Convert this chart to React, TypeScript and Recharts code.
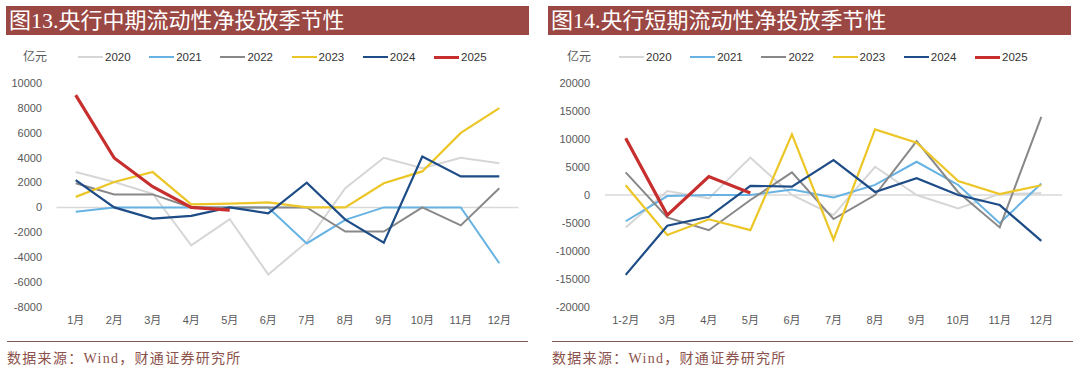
import { LineChart, Line, XAxis, YAxis, ReferenceLine } from "recharts";

// 图13 央行中期流动性净投放（亿元）
const MID_MONTHS = ["1月", "2月", "3月", "4月", "5月", "6月", "7月", "8月", "9月", "10月", "11月", "12月"];
const MID_2020 = [2850, 2050, 1100, -3050, -950, -5400, -2800, 1550, 4000, 3150, 4000, 3550];
const MID_2021 = [-350, 0, 0, 0, 0, 0, -2900, -1000, 0, 0, 0, -4500];
const MID_2022 = [1950, 1050, 1050, 0, 0, 0, 0, -1950, -1950, 0, -1450, 1550];
const MID_2023 = [850, 2050, 2850, 250, 300, 400, 0, 0, 1950, 2900, 6000, 8000];
const MID_2024 = [2200, 0, -900, -680, 0, -480, 1990, -980, -2850, 4100, 2500, 2500];
const MID_2025 = [9050, 3980, 1670, 0, -220, null, null, null, null, null, null, null];
const MID_TICKS = [-8000, -6000, -4000, -2000, 0, 2000, 4000, 6000, 8000, 10000];

// 图14 央行短期流动性净投放（亿元）
const SHORT_MONTHS = ["1-2月", "3月", "4月", "5月", "6月", "7月", "8月", "9月", "10月", "11月", "12月"];
const SHORT_2020 = [-5800, 700, -600, 6700, 0, -3600, 5050, 0, -2400, 200, 300];
const SHORT_2021 = [-4700, -200, 0, 0, 1000, -450, 1800, 5950, 1800, -5050, 2050];
const SHORT_2022 = [4050, -4000, -6300, -900, 4050, -4300, 0, 9650, 500, -5800, 14000];
const SHORT_2023 = [1750, -7150, -4350, -6300, 10850, -8000, 11750, 9350, 2500, 150, 1750];
const SHORT_2024 = [-14300, -5500, -3900, 1650, 1500, 6250, 550, 3000, 0, -1800, -8200];
const SHORT_2025 = [10150, -3600, 3300, 350, null, null, null, null, null, null, null];
const SHORT_TICKS = [-20000, -15000, -10000, -5000, 0, 5000, 10000, 15000, 20000];

const YEARS = ["2020", "2021", "2022", "2023", "2024", "2025"];
const COLORS = ["#d6d6d6", "#66b3e3", "#888888", "#ecc626", "#1d4c86", "#c62f2e"];
const WIDTHS = [2, 2, 2, 2.2, 2.2, 3.2];

const TICK_FONT = "'Liberation Sans', Arial, 'Noto Sans CJK SC', sans-serif";
const SERIF_FONT = "'Liberation Serif', 'Noto Sans CJK SC', serif";

function buildRows(months: string[], series: (number | null)[][]) {
  return months.map((m, i) => {
    const row: Record<string, string | number | null> = { m };
    YEARS.forEach((y, k) => {
      row[y] = series[k][i];
    });
    return row;
  });
}

const midRows = buildRows(MID_MONTHS, [MID_2020, MID_2021, MID_2022, MID_2023, MID_2024, MID_2025]);
const shortRows = buildRows(SHORT_MONTHS, [SHORT_2020, SHORT_2021, SHORT_2022, SHORT_2023, SHORT_2024, SHORT_2025]);

interface PanelProps {
  x: number;
  title: string;
  rows: Record<string, string | number | null>[];
  ticks: number[];
  axisWidth: number;
  rightMargin: number;
  labelEnd: number;
  pad: number;
  unitX: number;
  legendX: number;
}

function Panel({ x, title, rows, ticks, axisWidth, rightMargin, labelEnd, pad, unitX, legendX }: PanelProps) {
  return (
    <div style={{ position: "absolute", left: x, top: 0, width: 540, height: 378 }}>
      <div
        style={{
          position: "absolute",
          left: x === 0 ? 6 : 8,
          top: 6,
          width: 523,
          height: 29,
          background: "#9b4743",
          color: "#fff",
          fontFamily: SERIF_FONT,
          fontSize: 22,
          lineHeight: "29px",
          paddingLeft: 3,
          boxSizing: "border-box",
          whiteSpace: "nowrap",
        }}
      >
        {title}
      </div>

      <LineChart
        width={540}
        height={340}
        data={rows}
        margin={{ top: 83.3, right: rightMargin, bottom: 8.3, left: 0 }}
        style={{ position: "absolute", left: 0, top: 0 }}
      >
        <XAxis
          dataKey="m"
          height={25}
          padding={{ left: pad, right: pad }}
          axisLine={false}
          tickLine={false}
          tickMargin={3}
          interval={0}
          tick={{ fontSize: 11, fill: "#595959", fontFamily: TICK_FONT }}
        />
        <YAxis
          width={axisWidth}
          domain={[ticks[0], ticks[ticks.length - 1]]}
          ticks={ticks}
          axisLine={false}
          tickLine={false}
          tickMargin={axisWidth - 6 - labelEnd}
          tick={{ fontSize: 11, fill: "#595959", fontFamily: TICK_FONT }}
        />
        <ReferenceLine y={0} stroke="#d9d9d9" strokeWidth={1.5} />
        {YEARS.map((y, k) => (
          <Line
            key={y}
            type="linear"
            dataKey={y}
            stroke={COLORS[k]}
            strokeWidth={WIDTHS[k]}
            dot={false}
            connectNulls={false}
            isAnimationActive={false}
          />
        ))}
      </LineChart>

      <div
        style={{
          position: "absolute",
          left: unitX - 13,
          top: 49,
          fontSize: 12,
          color: "#595959",
          fontFamily: TICK_FONT,
          lineHeight: "16px",
        }}
      >
        亿元
      </div>
      {YEARS.map((y, k) => (
        <div
          key={y}
          style={{ position: "absolute", left: legendX + k * 71.2, top: 49, height: 16, display: "flex", alignItems: "center" }}
        >
          <div style={{ width: 25, height: k === 5 ? 3 : 2.5, background: COLORS[k] }} />
          <span style={{ marginLeft: 2, fontSize: 11.5, color: "#333", fontFamily: TICK_FONT }}>{y}</span>
        </div>
      ))}

      <div style={{ position: "absolute", left: x === 0 ? 7 : 12, top: 340.5, width: 521, height: 1.5, background: "#7d5a55" }} />
      <div
        style={{
          position: "absolute",
          left: x === 0 ? 7 : 12,
          top: 350,
          fontSize: 14,
          color: "#8c524c",
          fontFamily: SERIF_FONT,
          letterSpacing: 1.3,
          lineHeight: "18px",
        }}
      >
        数据来源：Wind，财通证券研究所
      </div>
    </div>
  );
}

export default function App() {
  return (
    <div style={{ position: "absolute", left: 0, top: 0, width: 1080, height: 378, background: "#fff", overflow: "hidden" }}>
      <Panel
        x={0}
        title="图13.央行中期流动性净投放季节性"
        rows={midRows}
        ticks={MID_TICKS}
        axisWidth={56.5}
        rightMargin={21.5}
        labelEnd={42}
        pad={19.2}
        unitX={36}
        legendX={78}
      />
      <Panel
        x={540}
        title="图14.央行短期流动性净投放季节性"
        rows={shortRows}
        ticks={SHORT_TICKS}
        axisWidth={65}
        rightMargin={18}
        labelEnd={50}
        pad={20.7}
        unitX={40}
        legendX={79}
      />
    </div>
  );
}
